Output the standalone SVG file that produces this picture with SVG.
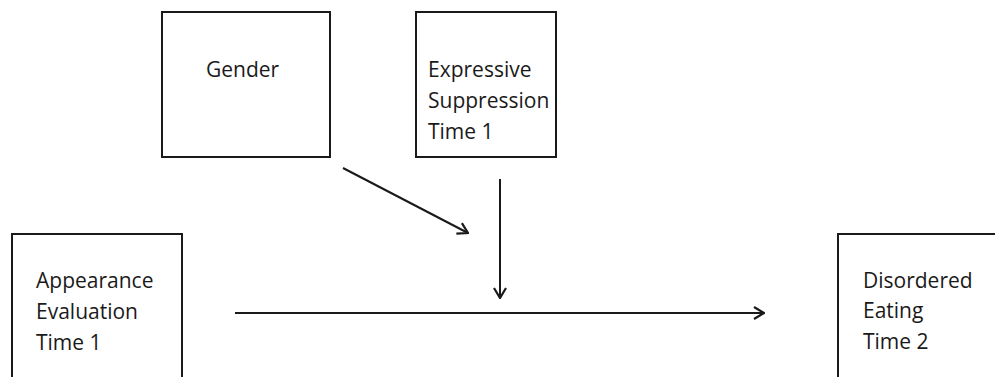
<svg xmlns="http://www.w3.org/2000/svg" width="995" height="377" viewBox="0 0 995 377">
  <style>
    .box { fill: #ffffff; stroke: #1a1a1a; stroke-width: 2; }
    .lbl { font-family: "Open Sans", "Liberation Sans", sans-serif; font-size: 21px; fill: #1a1a1a; }
    .edge { fill: none; stroke: #1a1a1a; stroke-width: 2; }
  </style>
  <defs>
    <marker id="vee" viewBox="0 0 12 14" refX="11" refY="7" markerWidth="12" markerHeight="14" markerUnits="userSpaceOnUse" orient="auto">
      <path d="M1,1 L11,7 L1,13" fill="none" stroke="#1a1a1a" stroke-width="2.2"/>
    </marker>
  </defs>
  <rect width="995" height="377" fill="#ffffff"/>

  <g id="gender">
    <rect class="box" x="162" y="12" width="168" height="145"/>
    <text class="lbl" x="206" y="77">Gender</text>
  </g>

  <g id="expressive-suppression">
    <rect class="box" x="416" y="12" width="140" height="145"/>
    <text class="lbl" x="428" y="77">Expressive</text>
    <text class="lbl" x="428" y="108">Suppression</text>
    <text class="lbl" x="428" y="139">Time 1</text>
  </g>

  <g id="appearance-evaluation">
    <rect class="box" x="12" y="234" width="170" height="160"/>
    <text class="lbl" x="36" y="288">Appearance</text>
    <text class="lbl" x="36" y="319">Evaluation</text>
    <text class="lbl" x="36" y="350">Time 1</text>
  </g>

  <g id="disordered-eating">
    <rect class="box" x="838" y="234" width="170" height="160"/>
    <text class="lbl" x="863" y="288">Disordered</text>
    <text class="lbl" x="863" y="318">Eating</text>
    <text class="lbl" x="863" y="349">Time 2</text>
  </g>

  <g id="connectors">
    <line class="edge" x1="343" y1="168" x2="468" y2="233" marker-end="url(#vee)"/>
    <line class="edge" x1="500" y1="179" x2="500" y2="298" marker-end="url(#vee)"/>
    <line class="edge" x1="235" y1="313" x2="764" y2="313" marker-end="url(#vee)"/>
  </g>
</svg>
